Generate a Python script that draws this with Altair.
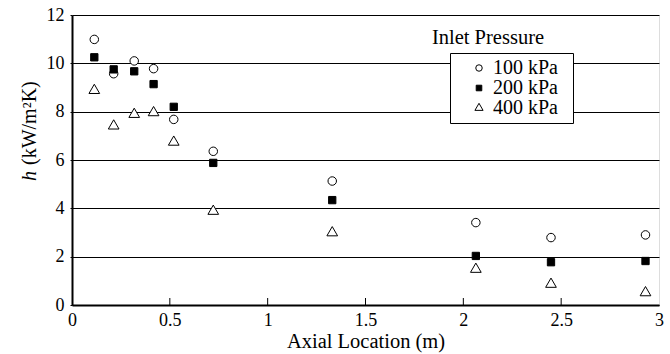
import altair as alt
import pandas as pd

# Data
x_loc = [0.114, 0.213, 0.318, 0.417, 0.52, 0.722, 1.33, 2.064, 2.448, 2.931]
h_100 = [10.99, 9.57, 10.10, 9.78, 7.68, 6.36, 5.13, 3.41, 2.79, 2.90]
h_200 = [10.25, 9.75, 9.67, 9.14, 8.20, 5.88, 4.34, 2.03, 1.77, 1.82]
h_400 = [8.88, 7.41, 7.89, 7.96, 6.74, 3.88, 2.99, 1.48, 0.86, 0.51]
series = ["100 kPa", "200 kPa", "400 kPa"]
x_tick_values = [0, 0.5, 1, 1.5, 2, 2.5, 3]
inner_ticks = [0.5, 1, 1.5, 2, 2.5]
y_tick_values = [0, 2, 4, 6, 8, 10, 12]

rows = []
for name, vals in zip(series, [h_100, h_200, h_400]):
    for xv, hv in zip(x_loc, vals):
        rows.append({"x": xv, "h": hv, "p": name})
df = pd.DataFrame(rows)
ticks_df = pd.DataFrame({"t": inner_ticks})

FONT = "Liberation Serif"
W, H = 587, 290

SQUARE = "M-0.86,-0.86L0.86,-0.86L0.86,0.86L-0.86,0.86Z"
TRIANGLE = "M0,-1.45L-1.26,0.73L1.26,0.73Z"

xscale = alt.Scale(domain=[0, 3], nice=False, zero=False)
yscale = alt.Scale(domain=[0, 12], nice=False)

xaxis = alt.Axis(values=x_tick_values, labelExpr="datum.value", title="Axial Location (m)",
                 ticks=False, grid=False, domainColor="black", domainWidth=2,
                 labelFont=FONT, labelFontSize=18, labelColor="black", labelPadding=6,
                 titleFont=FONT, titleFontSize=20.5, titleFontWeight="normal", titleColor="black",
                 titlePadding=2, labelFlush=False)
yaxis = alt.Axis(values=y_tick_values, title=None, grid=True, gridColor="black", gridWidth=1,
                 gridOpacity=1, tickSize=2, tickColor="black", domainColor="black", domainWidth=2,
                 labelFont=FONT, labelFontSize=18, labelColor="black", labelPadding=6)

legend = alt.Legend(title="I", titleOrient="right", titleFontSize=12, titleOpacity=0, titlePadding=5,
                    orient="none", legendX=378, legendY=38,
                    strokeColor="black", fillColor="white", padding=5,
                    symbolOffset=14, labelFont=FONT, labelFontSize=20,
                    labelColor="black", symbolSize=42, symbolStrokeWidth=1,
                    rowPadding=0, labelOffset=4)

points = alt.Chart(df).mark_point(filled=True, strokeWidth=1, opacity=1, size=72).encode(
    x=alt.X("x:Q", scale=xscale, axis=xaxis),
    y=alt.Y("h:Q", scale=yscale, axis=yaxis),
    shape=alt.Shape("p:N", scale=alt.Scale(domain=series, range=["circle", SQUARE, TRIANGLE]), legend=legend),
    fill=alt.Fill("p:N", scale=alt.Scale(domain=series, range=["white", "black", "white"]), legend=legend),
    stroke=alt.Stroke("p:N", scale=alt.Scale(domain=series, range=["black", "black", "black"]), legend=legend),
)

ticks = alt.Chart(ticks_df).mark_rule(color="black", strokeWidth=1).encode(
    x=alt.X("t:Q", scale=xscale, axis=xaxis),
    y=alt.value(H),
    y2=alt.value(H - 7),
)

legend_title = alt.Chart(pd.DataFrame({"t": ["Inlet Pressure"]})).mark_text(
    font=FONT, fontSize=20.5, color="black", align="center", baseline="alphabetic"
).encode(text="t:N", x=alt.value(416), y=alt.value(29))

ytitle_h = alt.Chart(pd.DataFrame({"t": ["h"]})).mark_text(
    font=FONT, fontSize=20, fontStyle="italic", color="black", align="left", baseline="alphabetic", angle=270
).encode(text="t:N", x=alt.value(-36), y=alt.value(166))

ytitle_rest = alt.Chart(pd.DataFrame({"t": ["(kW/m²K)"]})).mark_text(
    font=FONT, fontSize=20, color="black", align="left", baseline="alphabetic", angle=270
).encode(text="t:N", x=alt.value(-36), y=alt.value(150))

chart = alt.layer(points, ticks, legend_title, ytitle_h, ytitle_rest).properties(
    width=W, height=H,
    padding={"left": 72, "top": 15, "right": 11, "bottom": 49},
    autosize=alt.AutoSizeParams(type="none"),
).configure_view(stroke="black", strokeWidth=1.5).configure(
    background="white", font=FONT
).configure_axis(labelFont=FONT, titleFont=FONT)

chart.save("out.html", embed_options={"renderer": "svg", "actions": False})
